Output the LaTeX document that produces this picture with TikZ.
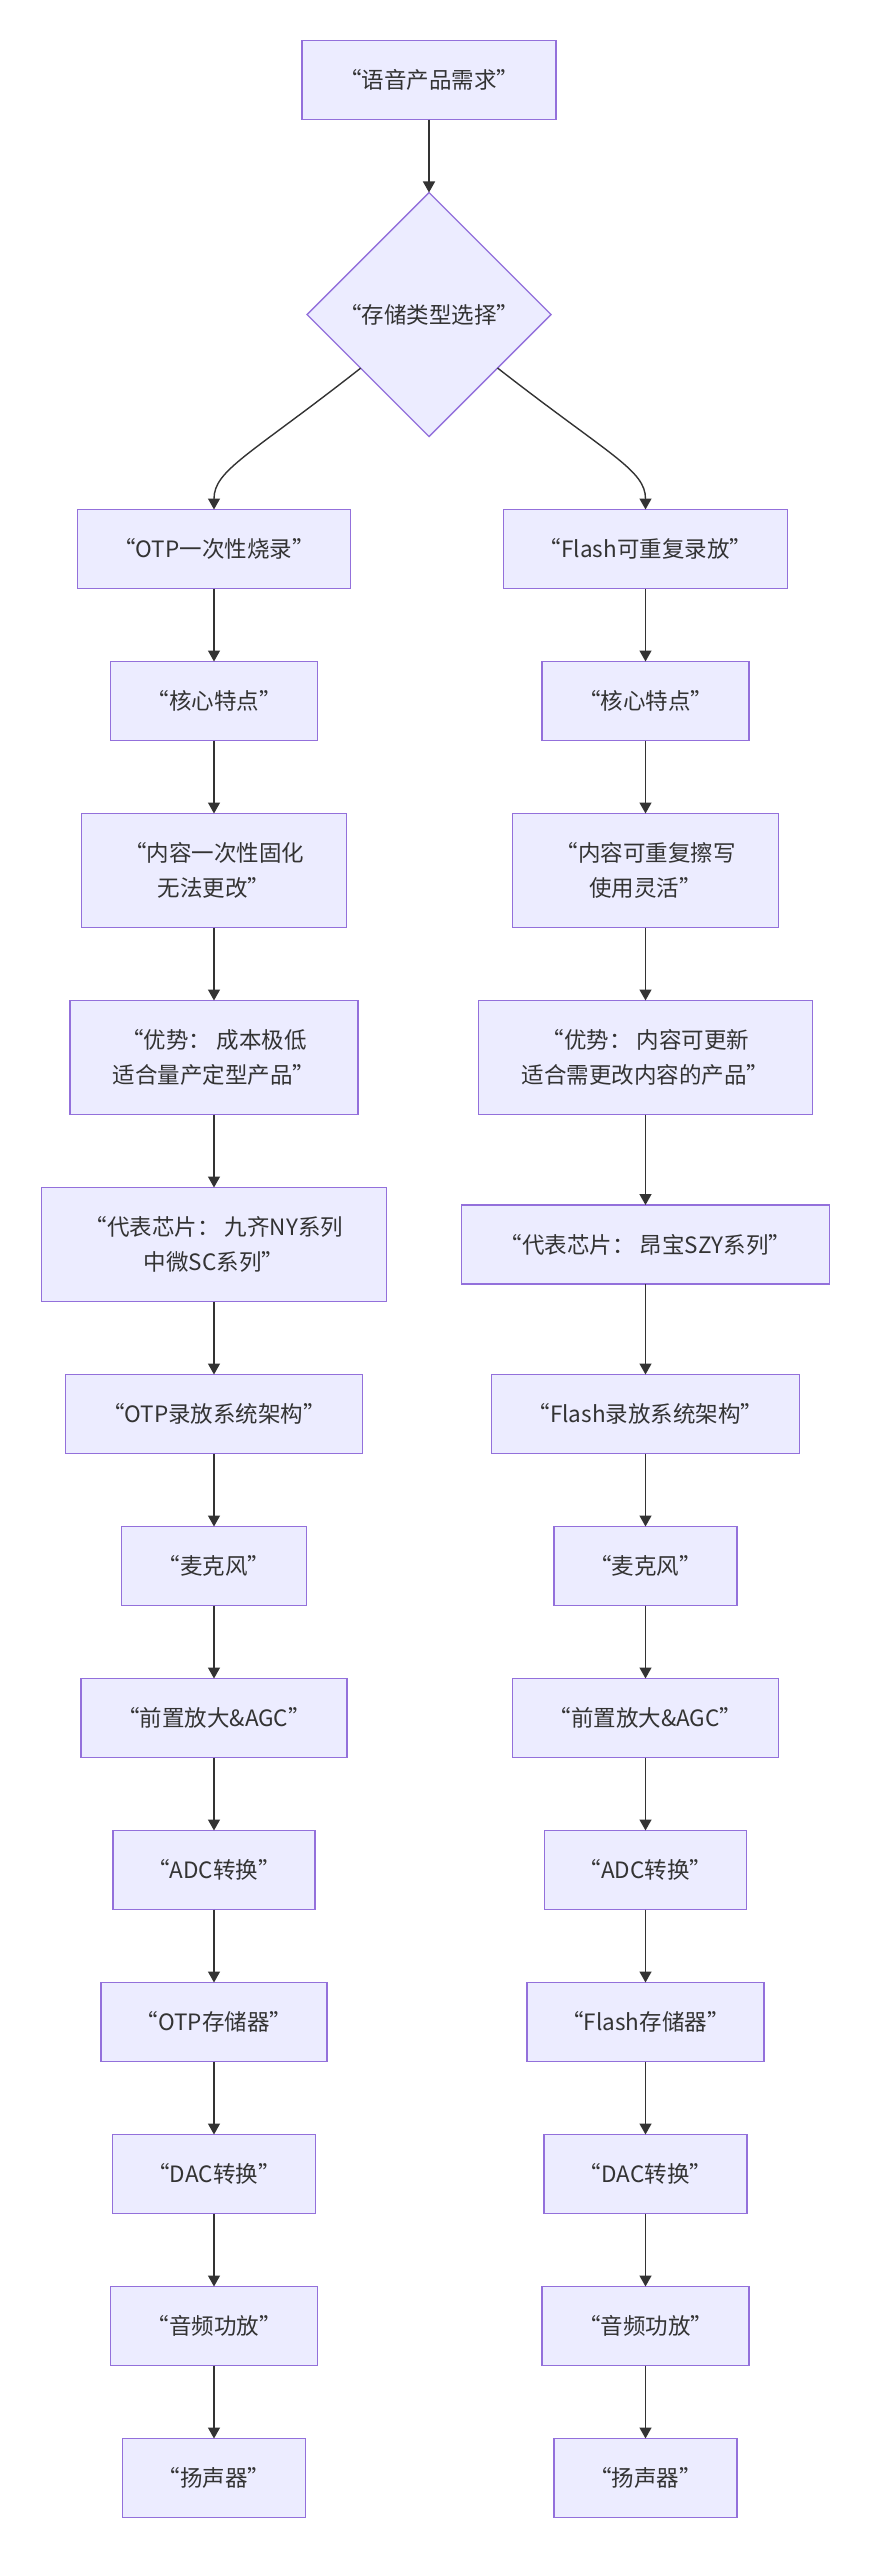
\documentclass[tikz,border=0pt]{standalone}
\usepackage{fontspec}
\setmainfont{Noto Sans CJK SC}
\usetikzlibrary{positioning,shapes.geometric,arrows.meta}
\definecolor{nodefill}{HTML}{ECECFF}
\definecolor{nodeline}{HTML}{9370DB}
\definecolor{edgeline}{HTML}{333333}
\tikzset{%
  box/.style    = {shape=rectangle, draw=nodeline, fill=nodefill,%
                   line width=1.4pt, align=center, text=edgeline,%
                   minimum height=79pt, inner sep=0pt, outer sep=0pt},%
  boxtwo/.style = {box, minimum height=114pt},%
  decide/.style = {shape=diamond, draw=nodeline, fill=nodefill,%
                   line width=1.4pt, align=center, text=edgeline,%
                   minimum width=244pt, minimum height=244pt,%
                   inner sep=0pt, outer sep=0pt},%
  arr/.style    = {draw=edgeline, line width=1.4pt,%
                   -{Triangle[length=11pt,width=12pt]}}%
}

\begin{document}
\begin{tikzpicture}[x=1pt,y=1pt,node distance=73pt,every node/.style={font=\fontsize{22.5}{35}\selectfont}]
	\useasboundingbox (0,0) rectangle (868,-2560);
	% top of the chart
	\node[box, minimum width=254pt] (need) at (429,-80) {“语音产品需求”};
	\node[decide, below=73pt of need] (choose) {“存储类型选择”};
	% OTP column
	\node[box, minimum width=273pt] (otp) at (214,-549) {“OTP一次性烧录”};
	\node[box, minimum width=207pt, below=of otp] (lcore) {“核心特点”};
	\node[boxtwo, minimum width=265pt, below=of lcore] (lfix) {“内容一次性固化\\无法更改”};
	\node[boxtwo, minimum width=288pt, below=of lfix] (ladv) {“优势： 成本极低\\适合量产定型产品”};
	\node[boxtwo, minimum width=345pt, below=of ladv] (lchip) {“代表芯片： 九齐NY系列\\中微SC系列”};
	\node[box, minimum width=297pt, below=of lchip] (larch) {“OTP录放系统架构”};
	\node[box, minimum width=185pt, below=of larch] (lmic) {“麦克风”};
	\node[box, minimum width=266pt, below=of lmic] (lpre) {“前置放大\&AGC”};
	\node[box, minimum width=202pt, below=of lpre] (ladc) {“ADC转换”};
	\node[box, minimum width=226pt, below=of ladc] (lmem) {“OTP存储器”};
	\node[box, minimum width=203pt, below=of lmem] (ldac) {“DAC转换”};
	\node[box, minimum width=207pt, below=of ldac] (lpa) {“音频功放”};
	\node[box, minimum width=183pt, below=of lpa] (lspk) {“扬声器”};
	% Flash column, row by row with the OTP column
	\node[box, minimum width=284pt] (flash) at (645.5,-549) {“Flash可重复录放”};
	\node[box, minimum width=207pt] (rcore) at (lcore -| flash) {“核心特点”};
	\node[boxtwo, minimum width=266pt] (rrw) at (lfix -| flash) {“内容可重复擦写\\使用灵活”};
	\node[boxtwo, minimum width=334pt] (radv) at (ladv -| flash) {“优势： 内容可更新\\适合需更改内容的产品”};
	\node[box, minimum width=368pt] (rchip) at (lchip -| flash) {“代表芯片： 昂宝SZY系列”};
	\node[box, minimum width=308pt] (rarch) at (larch -| flash) {“Flash录放系统架构”};
	\node[box, minimum width=183pt] (rmic) at (lmic -| flash) {“麦克风”};
	\node[box, minimum width=266pt] (rpre) at (lpre -| flash) {“前置放大\&AGC”};
	\node[box, minimum width=202pt] (radc) at (ladc -| flash) {“ADC转换”};
	\node[box, minimum width=237pt] (rmem) at (lmem -| flash) {“Flash存储器”};
	\node[box, minimum width=203pt] (rdac) at (ldac -| flash) {“DAC转换”};
	\node[box, minimum width=207pt] (rpa) at (lpa -| flash) {“音频功放”};
	\node[box, minimum width=183pt] (rspk) at (lspk -| flash) {“扬声器”};
	% connectors
	\draw[arr] (need) -- (choose);
	\draw[arr] (choose) .. controls (250,-455) and (214,-470) .. (otp.north);
	\draw[arr] (choose) .. controls (609,-455) and (645.5,-470) .. (flash.north);
	\foreach \a/\b in {otp/lcore,lcore/lfix,lfix/ladv,ladv/lchip,lchip/larch,larch/lmic,lmic/lpre,lpre/ladc,ladc/lmem,lmem/ldac,ldac/lpa,lpa/lspk,%
	                   flash/rcore,rcore/rrw,rrw/radv,radv/rchip,rchip/rarch,rarch/rmic,rmic/rpre,rpre/radc,radc/rmem,rmem/rdac,rdac/rpa,rpa/rspk}
		\draw[arr] (\a) -- (\b);
\end{tikzpicture}
\end{document}
